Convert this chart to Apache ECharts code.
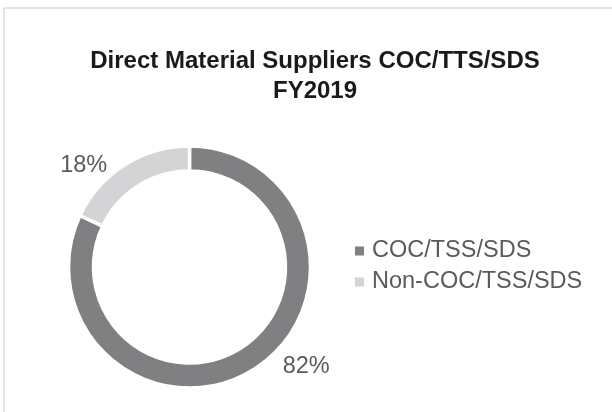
<!DOCTYPE html>
<html>
<head>
<meta charset="utf-8">
<script src="https://cdn.jsdelivr.net/npm/echarts@6/dist/echarts.min.js"></script>
<style>
  html, body { margin: 0; padding: 0; background: #fff; }
  #chart { width: 612px; height: 412px; }
</style>
</head>
<body>
<div id="chart"></div>
<script>
  // data
  var categories = ['COC/TSS/SDS', 'Non-COC/TSS/SDS']
  var shares = [82, 18]
  var colors = ['#808083', '#d4d4d6']
  // per-slice label line lengths, so the % labels sit where they do in the original
  var lineLen = [[-3, 25], [-1, 13]]

  var chart = echarts.init(document.getElementById('chart'))

  var option = {
    animation: false,
    title: {
      text: 'Direct Material Suppliers COC/TTS/SDS\nFY2019',
      left: 310,
      top: 41,
      textAlign: 'center',
      textStyle: {
        fontFamily: 'Liberation Sans, Arial, sans-serif',
        fontSize: 24,
        fontWeight: 'bold',
        color: '#1a1a1a',
        lineHeight: 30
      }
    },
    legend: {
      orient: 'vertical',
      left: 348,
      top: 234,
      itemWidth: 11,
      itemHeight: 11,
      itemGap: 7,
      icon: 'rect',
      data: categories,
      textStyle: {
        fontFamily: 'Liberation Sans, Arial, sans-serif',
        fontSize: 23.5,
        color: '#5a5a5a',
        padding: [0, 0, 0, 2]
      }
    },
    graphic: [
      { type: 'line', shape: { x1: 4, y1: 8, x2: 612, y2: 8 }, style: { stroke: '#e3e3e3', lineWidth: 2 } },
      { type: 'line', shape: { x1: 4, y1: 8, x2: 4, y2: 412 }, style: { stroke: '#e3e3e3', lineWidth: 2 } }
    ],
    series: [
      {
        type: 'pie',
        center: [189.5, 267],
        radius: [96, 121],
        startAngle: 90,
        clockwise: true,
        avoidLabelOverlap: false,
        itemStyle: {
          borderColor: '#fff',
          borderWidth: 3.5
        },
        label: {
          show: true,
          position: 'outside',
          formatter: '{d}%',
          fontFamily: 'Liberation Sans, Arial, sans-serif',
          fontSize: 23.5,
          color: '#5a5a5a'
        },
        labelLine: { show: false },
        data: categories.map(function (name, i) {
          return {
            name: name,
            value: shares[i],
            itemStyle: { color: colors[i] },
            labelLine: { show: false, length: lineLen[i][0], length2: lineLen[i][1] }
          }
        })
      }
    ]
  }

  chart.setOption(option)
</script>
</body>
</html>
